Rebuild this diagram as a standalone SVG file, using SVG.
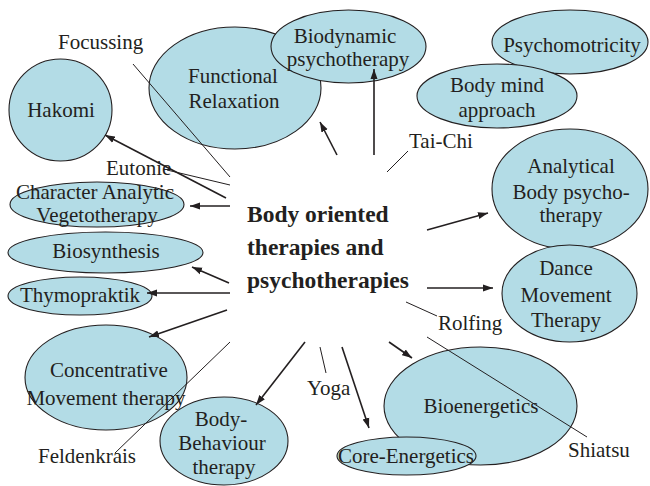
<svg xmlns="http://www.w3.org/2000/svg" width="650" height="486" viewBox="0 0 650 486">
<style>
.n ellipse{fill:#b3dce6;stroke:#231f20;stroke-width:1.1}
text{font-family:"Liberation Serif","Times New Roman",serif;font-size:21px;fill:#231f20}
.c{text-anchor:middle}
.t{font-size:23.5px;font-weight:bold}
.a{stroke:#231f20;stroke-width:1.6;fill:none;marker-end:url(#ah)}
.l{stroke:#231f20;stroke-width:1;fill:none}
</style>
<defs>
<marker id="ah" markerUnits="userSpaceOnUse" viewBox="0 0 10 8" markerWidth="10" markerHeight="8" refX="10" refY="4" orient="auto">
<path d="M0,0.5 L10,4 L0,7.5 Z" fill="#231f20"/>
</marker>
</defs>
<g id="functional" class="n"><ellipse cx="235" cy="88" rx="86" ry="61"/><text class="c" x="233" y="83">Functional</text><text class="c" x="234" y="108">Relaxation</text></g>
<g id="biodynamic" class="n"><ellipse cx="348.5" cy="46.5" rx="77.5" ry="36.5"/><text class="c" x="345" y="43">Biodynamic</text><text class="c" x="348" y="66">psychotherapy</text></g>
<g id="psychomotricity" class="n"><ellipse cx="570" cy="42" rx="78" ry="32"/><text class="c" x="572" y="52">Psychomotricity</text></g>
<g id="bodymind" class="n"><ellipse cx="497" cy="96" rx="80" ry="32"/><text class="c" x="497" y="92">Body mind</text><text class="c" x="497" y="117">approach</text></g>
<g id="analytical" class="n"><ellipse cx="570" cy="189" rx="78" ry="60"/><text class="c" x="571" y="173">Analytical</text><text class="c" x="571" y="199">Body psycho-</text><text class="c" x="571" y="222">therapy</text></g>
<g id="dance" class="n"><ellipse cx="569.5" cy="293.5" rx="67.5" ry="48.5"/><text class="c" x="566" y="275">Dance</text><text class="c" x="566" y="302">Movement</text><text class="c" x="566" y="327">Therapy</text></g>
<g id="bioenergetics" class="n"><ellipse cx="480.5" cy="406" rx="96.5" ry="59"/><text class="c" x="481" y="413">Bioenergetics</text></g>
<g id="core" class="n"><ellipse cx="406.5" cy="456" rx="69.5" ry="19"/><text class="c" x="406" y="463">Core-Energetics</text></g>
<g id="concentrative" class="n"><ellipse cx="106" cy="377.5" rx="81" ry="52.5"/><text class="c" x="109" y="377">Concentrative</text><text class="c" x="106" y="405">Movement therapy</text></g>
<g id="bodybehaviour" class="n"><ellipse cx="224" cy="441" rx="64" ry="44"/><text class="c" x="221" y="426">Body-</text><text class="c" x="222" y="450">Behaviour</text><text class="c" x="224" y="474">therapy</text></g>
<g id="hakomi" class="n"><ellipse cx="60.5" cy="110" rx="51.5" ry="51"/><text class="c" x="61" y="117">Hakomi</text></g>
<g id="character" class="n"><ellipse cx="97" cy="204.5" rx="87" ry="22.5"/><text class="c" x="95" y="199">Character Analytic</text><text class="c" x="97" y="222">Vegetotherapy</text></g>
<g id="biosynthesis" class="n"><ellipse cx="105.5" cy="252.5" rx="97.5" ry="20.5"/><text class="c" x="106" y="258">Biosynthesis</text></g>
<g id="thymopraktik" class="n"><ellipse cx="80" cy="296" rx="72" ry="19"/><text class="c" x="80" y="302">Thymopraktik</text></g>
<g id="center"><text class="t" x="247" y="222">Body oriented</text><text class="t" x="247" y="255">therapies and</text><text class="t" x="247" y="288">psychotherapies</text></g>
<g id="labels">
<text x="58" y="49">Focussing</text>
<text x="106" y="175">Eutonie</text>
<text x="409" y="148">Tai-Chi</text>
<text x="438" y="330">Rolfing</text>
<text x="307" y="395">Yoga</text>
<text x="568" y="457">Shiatsu</text>
<text x="38" y="463">Feldenkrais</text>
</g>
<g id="connectors">
<line class="a" x1="226" y1="198" x2="105" y2="135"/>
<line class="a" x1="230" y1="206" x2="190" y2="206"/>
<line class="a" x1="337" y1="155" x2="320" y2="122"/>
<line class="a" x1="374" y1="155" x2="374" y2="69"/>
<line class="a" x1="427" y1="230" x2="488" y2="213"/>
<line class="a" x1="427" y1="288" x2="493" y2="288"/>
<line class="a" x1="389" y1="342" x2="412" y2="358"/>
<line class="a" x1="342" y1="347" x2="369" y2="428"/>
<line class="a" x1="305" y1="342" x2="256" y2="405"/>
<line class="a" x1="227" y1="310" x2="149" y2="337"/>
<line class="a" x1="230" y1="293" x2="147" y2="293"/>
<line class="a" x1="229" y1="283" x2="192" y2="267"/>
<line class="l" x1="133" y1="64" x2="230" y2="177"/>
<line class="l" x1="167" y1="170" x2="230" y2="185"/>
<line class="l" x1="408" y1="151" x2="387" y2="172"/>
<line class="l" x1="406" y1="302" x2="437" y2="316"/>
<line class="l" x1="427" y1="337" x2="587" y2="437"/>
<line class="l" x1="320" y1="347" x2="326" y2="373"/>
<line class="l" x1="230" y1="342" x2="115" y2="453"/>
</g>
</svg>
